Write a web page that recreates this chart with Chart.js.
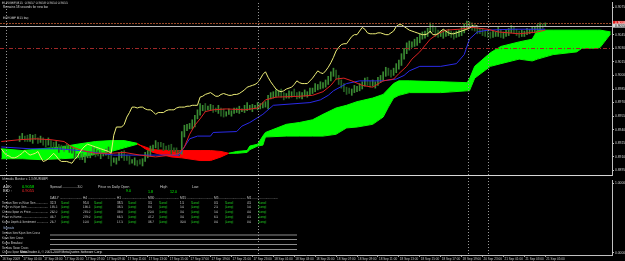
<!DOCTYPE html>
<html><head><meta charset="utf-8">
<script src="https://cdn.jsdelivr.net/npm/chart.js@4.4.0/dist/chart.umd.min.js"></script>
<style>
html,body{margin:0;padding:0;background:#000;overflow:hidden}
#wrap{position:relative;width:625px;height:261px;background:#000}
#c1{position:absolute;left:0;top:0}
#c2{position:absolute;left:0;top:178px}
#txt{position:absolute;left:0;top:0;width:1250px;height:522px;transform:scale(0.5);transform-origin:0 0;pointer-events:none;font-family:"Liberation Sans",Arial,sans-serif;z-index:2}
#txt div{position:absolute;white-space:pre;line-height:1;overflow:hidden}
</style></head><body>
<div id="wrap">
<canvas id="c1" width="625" height="178"></canvas>
<canvas id="c2" width="625" height="83"></canvas>
<div id="txt"></div>
</div>
<script>
// ---------------- DATA ----------------
// M15 bars, bar 0 = 16 Sep 2009 23:00
const timeBars = [0,8,16,24,32,40,48,56,64,72,80,88,96,104,112,120,128,136,144,152,160,168,176,184,192,200,208];
const timeLabels = ["16 Sep 2009","17 Sep 01:00","17 Sep 03:00","17 Sep 05:00","17 Sep 07:00","17 Sep 09:00","17 Sep 11:00","17 Sep 13:00","17 Sep 15:00","17 Sep 17:00","17 Sep 19:00","17 Sep 21:00","17 Sep 23:00","18 Sep 01:00","18 Sep 03:00","18 Sep 05:00","18 Sep 07:00","18 Sep 09:00","18 Sep 11:00","18 Sep 13:00","18 Sep 15:00","18 Sep 17:00","18 Sep 19:00","20 Sep 23:00","21 Sep 01:00","21 Sep 03:00","21 Sep 05:00"];
const priceTicks = [0.9075,0.9045,0.9030,0.9015,0.9000,0.8985,0.8970,0.8955,0.8940,0.8925,0.8910,0.8895];
const indicatorTicks = [1,0];

const firstBar = 7; // first visible candle
const closes = [
0.8930,0.8932,0.8931,0.8929,0.8930,0.8932,0.8930,0.8928,0.8929,0.8927,
0.8924,0.8927,0.8923,0.8921,0.8922,0.8920,0.8919,0.8921,0.8920,0.8919,
0.8915,0.8912,0.8911,0.8909,0.8909,0.8910,0.8912,0.8914,0.8917,0.8914,
0.8912,0.8913,0.8914,0.8916,0.8910,0.8905,0.8906,0.8908,0.8911,0.8914,
0.8911,0.8907,0.8905,0.8905,0.8905,0.8904,0.8903,0.8907,0.8910,0.8915,
0.8919,0.8922,0.8924,0.8923,0.8922,0.8921,0.8920,0.8919,0.8918,0.8917,
0.8916,0.8914,0.8934,0.8943,0.8943,0.8943,0.8946,0.8954,0.8959,0.8965,
0.8965,0.8964,0.8965,0.8965,0.8963,0.8962,0.8962,0.8960,0.8957,0.8959,
0.8959,0.8959,0.8961,0.8962,0.8962,0.8962,0.8964,0.8965,0.8965,0.8965,
0.8966,0.8966,0.8967,0.8967,0.8967,0.8976,0.8977,0.8979,0.8980,0.8981,
0.8979,0.8977,0.8977,0.8979,0.8980,0.8979,0.8978,0.8978,0.8979,0.8979,
0.8980,0.8982,0.8984,0.8987,0.8988,0.8989,0.8990,0.8992,0.8996,0.9001,
0.9004,0.8998,0.8993,0.8989,0.8985,0.8983,0.8982,0.8983,0.8985,0.8986,
0.8987,0.8990,0.8994,0.8992,0.8991,0.8991,0.8991,0.8994,0.8997,0.9001,
0.9005,0.9003,0.9002,0.9005,0.9009,0.9014,0.9020,0.9027,0.9031,0.9034,
0.9035,0.9035,0.9039,0.9043,0.9045,0.9045,0.9049,0.9053,0.9051,0.9047,
0.9046,0.9046,0.9046,0.9047,0.9047,0.9046,0.9045,0.9045,0.9047,0.9049,
0.9054,0.9056,0.9056,0.9054,0.9052,0.9050,0.9049,0.9048,0.9047,0.9046,
0.9045,0.9045,0.9046,0.9049,0.9045,0.9045,0.9046,0.9049,0.9051,0.9049,
0.9047,0.9046,0.9046,0.9047,0.9048,0.9049,0.9050,0.9051,0.9052,0.9055,
0.9054,0.9055];
const highs = [
0.8933,0.8936,0.8933,0.8934,0.8935,0.8934,0.8935,0.8931,0.8933,0.8931,
0.8929,0.8931,0.8928,0.8926,0.8927,0.8924,0.8923,0.8922,0.8925,0.8922,
0.8921,0.8919,0.8913,0.8914,0.8914,0.8912,0.8915,0.8915,0.8921,0.8919,
0.8917,0.8917,0.8915,0.8919,0.8921,0.8912,0.8909,0.8909,0.8915,0.8916,
0.8917,0.8912,0.8911,0.8907,0.8909,0.8906,0.8907,0.8908,0.8915,0.8917,
0.8922,0.8923,0.8928,0.8926,0.8926,0.8925,0.8922,0.8923,0.8924,0.8920,
0.8920,0.8917,0.8938,0.8945,0.8946,0.8947,0.8951,0.8956,0.8962,0.8969,
0.8967,0.8969,0.8966,0.8968,0.8967,0.8964,0.8967,0.8964,0.8963,0.8960,
0.8963,0.8961,0.8964,0.8964,0.8966,0.8963,0.8967,0.8970,0.8967,0.8968,
0.8967,0.8970,0.8969,0.8970,0.8971,0.8978,0.8981,0.8982,0.8984,0.8983,
0.8985,0.8981,0.8980,0.8983,0.8982,0.8985,0.8981,0.8982,0.8981,0.8984,
0.8982,0.8986,0.8986,0.8991,0.8990,0.8993,0.8992,0.8995,0.8999,0.9004,
0.9008,0.9006,0.9000,0.8995,0.8991,0.8987,0.8986,0.8985,0.8989,0.8988,
0.8991,0.8993,0.8997,0.8998,0.8994,0.8995,0.8993,0.8998,0.9000,0.9004,
0.9009,0.9008,0.9006,0.9008,0.9013,0.9017,0.9024,0.9030,0.9036,0.9038,
0.9037,0.9040,0.9042,0.9046,0.9048,0.9049,0.9052,0.9058,0.9056,0.9053,
0.9050,0.9049,0.9050,0.9049,0.9051,0.9049,0.9048,0.9049,0.9050,0.9053,
0.9057,0.9060,0.9059,0.9058,0.9056,0.9054,0.9052,0.9052,0.9050,0.9051,
0.9048,0.9049,0.9048,0.9053,0.9051,0.9048,0.9050,0.9052,0.9055,0.9053,
0.9051,0.9049,0.9050,0.9049,0.9052,0.9051,0.9054,0.9053,0.9056,0.9058,
0.9057,0.9058];
const lows = [
0.8927,0.8929,0.8927,0.8927,0.8927,0.8925,0.8929,0.8925,0.8926,0.8923,
0.8921,0.8923,0.8919,0.8919,0.8919,0.8915,0.8918,0.8916,0.8918,0.8915,
0.8914,0.8908,0.8909,0.8907,0.8907,0.8904,0.8909,0.8909,0.8912,0.8910,
0.8911,0.8908,0.8911,0.8912,0.8908,0.8900,0.8904,0.8902,0.8906,0.8909,
0.8906,0.8906,0.8902,0.8903,0.8901,0.8900,0.8902,0.8900,0.8905,0.8909,
0.8911,0.8917,0.8920,0.8918,0.8921,0.8917,0.8918,0.8917,0.8913,0.8916,
0.8913,0.8911,0.8913,0.8932,0.8939,0.8941,0.8941,0.8943,0.8952,0.8956,
0.8961,0.8960,0.8962,0.8962,0.8959,0.8960,0.8958,0.8955,0.8954,0.8955,
0.8957,0.8955,0.8958,0.8959,0.8958,0.8960,0.8959,0.8961,0.8962,0.8960,
0.8963,0.8962,0.8963,0.8964,0.8965,0.8963,0.8974,0.8975,0.8976,0.8977,
0.8976,0.8973,0.8975,0.8975,0.8976,0.8977,0.8974,0.8975,0.8974,0.8977,
0.8976,0.8978,0.8980,0.8982,0.8984,0.8985,0.8986,0.8987,0.8990,0.8994,
0.8999,0.8996,0.8990,0.8986,0.8982,0.8979,0.8980,0.8978,0.8981,0.8982,
0.8983,0.8985,0.8988,0.8989,0.8987,0.8988,0.8986,0.8989,0.8992,0.8994,
0.8999,0.9000,0.8998,0.9000,0.9003,0.9007,0.9011,0.9018,0.9024,0.9028,
0.9031,0.9032,0.9033,0.9036,0.9040,0.9041,0.9043,0.9047,0.9048,0.9043,
0.9042,0.9043,0.9041,0.9043,0.9044,0.9042,0.9040,0.9042,0.9043,0.9044,
0.9047,0.9052,0.9053,0.9050,0.9049,0.9046,0.9046,0.9044,0.9043,0.9042,
0.9041,0.9042,0.9043,0.9043,0.9042,0.9041,0.9043,0.9044,0.9047,0.9046,
0.9044,0.9042,0.9043,0.9043,0.9045,0.9046,0.9047,0.9047,0.9049,0.9050,
0.9052,0.9054];

const tenkan = [[0,0.8927],[7,0.8929],[13,0.8930],[19,0.8929],[24,0.8927],[27,0.8921],[31,0.8917],[36,0.8914],[42,0.8914],[47,0.8915],[53,0.8912],[59,0.8910],[65,0.8912],[68,0.8914],[70,0.8921],[72,0.8935],[74,0.8945],[76,0.8952],[78,0.8960],[81,0.8962],[86,0.8963],[93,0.8962],[98,0.8964],[101,0.8973],[105,0.8976],[114,0.8977],[119,0.8978],[123,0.8982],[126,0.8989],[128,0.8996],[131,0.8997],[134,0.8994],[138,0.8989],[142,0.8987],[146,0.8994],[150,0.8996],[152,0.9002],[155,0.9010],[157,0.9018],[160,0.9026],[164,0.9040],[167,0.9046],[170,0.9050],[175,0.9051],[180,0.9053],[186,0.9051],[190,0.9048],[198,0.9046],[205,0.9048],[208,0.9050]];
const kijun = [[0,0.8921],[11,0.8919],[22,0.8919],[30,0.8917],[38,0.8914],[43,0.8912],[57,0.8912],[68,0.8912],[70,0.8921],[72,0.8930],[75,0.8933],[80,0.8933],[81,0.8937],[90,0.8938],[92,0.8944],[95,0.8948],[100,0.8957],[104,0.8967],[118,0.8970],[122,0.8973],[125,0.8978],[127,0.8983],[132,0.8991],[137,0.8994],[146,0.8994],[151,0.8996],[154,0.9000],[156,0.9005],[160,0.9010],[168,0.9010],[174,0.9013],[177,0.9023],[179,0.9040],[182,0.9048],[186,0.9050],[195,0.9051],[208,0.9051]];

const cloudBars = [0,8,15,23,29,36,42,47,52,55,58,65,69,76,80,84,87,90,94,95,98,100,101,109,114,119,123,128,132,136,142,146,148,150,152,156,168,178,179,181,187,191,198,203,205,211,220,222,228,229,233];
const senkouA = [
0.8919,0.8917,0.8919,0.8921,0.8924,0.8927,0.8928,0.8928,0.8925,0.8919,
0.8915,0.8910,0.8909,0.8906,0.8906,0.8910,0.8914,0.8916,0.8917,0.8922,
0.8924,0.8933,0.8937,0.8946,0.8948,0.8951,0.8957,0.8964,0.8967,0.8971,
0.8975,0.8979,0.8985,0.8991,0.8994,0.8994,0.8993,0.8992,0.8996,0.9010,
0.9025,0.9032,0.9037,0.9040,0.9050,0.9050,0.9050,0.9050,0.9050,0.9050,
0.9048];
const senkouB = [
0.8908,0.8908,0.8907,0.8908,0.8909,0.8913,0.8916,0.8920,0.8924,0.8921,
0.8918,0.8917,0.8917,0.8917,0.8917,0.8916,0.8914,0.8914,0.8915,0.8918,
0.8922,0.8923,0.8932,0.8933,0.8933,0.8933,0.8933,0.8935,0.8942,0.8943,
0.8946,0.8954,0.8965,0.8975,0.8978,0.8981,0.8981,0.8983,0.8983,0.8997,
0.9010,0.9013,0.9018,0.9016,0.9018,0.9023,0.9026,0.9030,0.9030,0.9031,
0.9046];

const chikouShift = 26;
const askPrice = 0.9058, bidPrice = 0.9055, levelPrice = 0.9030;
const separatorBars = [1.8, 98.2, 178.5, 186.1];

const monitorCols = ["DAILY","H4","H1","M30","M15","M5","M1"];
const monitorRows = ["Tenkan Sen vs Kijun Sen","Price vs Kijun Sen","Chikou Span vs Price","Price vs Kumo","Kumo Depth & Sentiment"];
const monitorValues = [
 ["32.3","95.0","38.5","3.5","1.5","0.5","4.5"],
 ["195.5","190.5","38.5","8.0","5.0","2.5","5.0"],
 ["262.0","291.0","39.0","20.0","3.0","5.0","4.0"],
 ["46.7","279.0","66.5","47.2","3.0","6.5","4.5"],
 ["26.7","10.0","17.5","38.7","30.0","0.0","0.0"]];
const signalRows = ["Tenkan Sen/Kijun Sen Cross","Kijun Sen Cross","Kumo Breakout","Senkou Span Cross","Chikou Span Cross"];

// ---------------- CHARTS ----------------
const FONT = "Liberation Sans";
const xMin = -0.5, xMax = 233.5;
const GREEN = '#00ff00', RED = '#ff0000';

const candleData = closes.map((c, i) => ({x: firstBar + i, y: [lows[i], highs[i]]}));
const chikouData = closes.map((c, i) => ({x: firstBar + i - chikouShift, y: c})).filter(p => p.x >= 0);
const toXY = arr => arr.map(p => ({x: p[0], y: p[1]}));
const cloudColor = ctx => {
  const i = ctx.p0DataIndex, j = ctx.p1DataIndex;
  return (senkouA[i] + senkouA[j] >= senkouB[i] + senkouB[j]) ? GREEN : RED;
};

function drawSeparators(chart, top, bottom) {
  const {ctx, scales: {x}} = chart;
  ctx.save();
  ctx.strokeStyle = '#9a9a9a'; ctx.lineWidth = 1; ctx.setLineDash([1, 2]);
  separatorBars.forEach(b => {
    const px = Math.round(x.getPixelForValue(b)) + 0.5;
    ctx.beginPath(); ctx.moveTo(px, top); ctx.lineTo(px, bottom); ctx.stroke();
  });
  ctx.restore();
}

const mainOverlay = {
  id: 'mainOverlay',
  afterDatasetsDraw(chart) {
    const {ctx, chartArea: a, scales: {y}} = chart;
    drawSeparators(chart, a.top, a.bottom);
    ctx.save();
    const hl = (v, color, dash) => {
      const py = Math.round(y.getPixelForValue(v)) + 0.5;
      ctx.strokeStyle = color; ctx.setLineDash(dash); ctx.lineWidth = 1;
      ctx.beginPath(); ctx.moveTo(a.left, py); ctx.lineTo(a.right, py); ctx.stroke();
    };
    hl(askPrice, '#9a4a28', [2, 1]);
    hl(bidPrice, '#b8b8b8', []);
    hl(levelPrice, '#a02828', [4, 2, 1, 2]);
    ctx.restore();
  },
  afterDraw(chart) {
    const {ctx, chartArea: a, scales: {y}} = chart;
    ctx.save();
    ctx.strokeStyle = '#d8d8d8'; ctx.lineWidth = 1;
    ctx.beginPath(); ctx.moveTo(0, a.bottom + 0.5); ctx.lineTo(a.right, a.bottom + 0.5); ctx.stroke();
    const box = (v, bg, fg) => {
      const py = y.getPixelForValue(v);
      ctx.fillStyle = bg; ctx.fillRect(a.right + 1, py - 2, 12, 4);
      ctx.fillStyle = fg; ctx.font = '3.3px "' + FONT + '"';
      ctx.textBaseline = 'middle'; ctx.textAlign = 'left';
      ctx.fillText(v.toFixed(4), a.right + 3, py);
    };
    box(askPrice, '#e01818', '#ffffff');
    box(bidPrice, '#d8d8d8', '#000000');
    ctx.restore();
  }
};

new Chart(document.getElementById('c1'), {
  type: 'line',
  data: { datasets: [
    { label: 'Senkou Span A', data: cloudBars.map((b, i) => ({x: b, y: senkouA[i]})),
      borderWidth: 1, borderColor: GREEN, segment: {borderColor: cloudColor}, pointRadius: 0,
      fill: {target: '+1', above: GREEN, below: RED}, order: 10 },
    { label: 'Senkou Span B', data: cloudBars.map((b, i) => ({x: b, y: senkouB[i]})),
      borderWidth: 1, borderColor: GREEN, segment: {borderColor: cloudColor}, pointRadius: 0,
      fill: false, order: 9 },
    { type: 'bar', label: 'EURGBP', data: candleData, barThickness: 1, grouped: false,
      backgroundColor: ctx => {
        const i = ctx.dataIndex;
        const open = i > 0 ? closes[i - 1] : closes[i];
        return closes[i] >= open ? '#3a8a32' : '#255e22';
      }, order: 5 },
    { label: 'Kijun Sen', data: toXY(kijun), borderColor: '#2a2ae8', borderWidth: 1, pointRadius: 0, fill: false, order: 3 },
    { label: 'Tenkan Sen', data: toXY(tenkan), borderColor: '#dc2222', borderWidth: 1, pointRadius: 0, fill: false, order: 2 },
    { label: 'Chikou Span', data: chikouData, borderColor: '#eeee78', borderWidth: 1, pointRadius: 0, fill: false, order: 1 }
  ]},
  options: {
    responsive: false, animation: false, devicePixelRatio: 1, events: [],
    layout: {padding: {left: 0, right: 0, top: 0, bottom: 1}, autoPadding: false},
    plugins: {legend: {display: false}, tooltip: {enabled: false}},
    scales: {
      x: {type: 'linear', min: xMin, max: xMax, display: false, offset: false, bounds: 'data', grace: 0,
          grid: {offset: false}},
      y: {type: 'linear', position: 'right', min: 0.8890, max: 0.9080,
        afterBuildTicks: s => { s.ticks = priceTicks.map(v => ({value: v})); },
        afterFit: s => { s.width = 13; },
        ticks: {color: '#d0d0d0', font: {family: FONT, size: 3.3}, padding: 1, callback: v => Number(v).toFixed(4)},
        grid: {drawOnChartArea: false, color: '#c0c0c0', tickLength: 2},
        border: {color: '#c0c0c0'}}
    }
  },
  plugins: [mainOverlay]
});

const subOverlay = {
  id: 'subOverlay',
  afterDraw(chart) { drawSeparators(chart, 0, chart.chartArea.bottom); }
};

new Chart(document.getElementById('c2'), {
  type: 'line',
  data: { datasets: [] },
  options: {
    responsive: false, animation: false, devicePixelRatio: 1, events: [],
    layout: {padding: 0, autoPadding: false},
    plugins: {legend: {display: false}, tooltip: {enabled: false}},
    scales: {
      x: {type: 'linear', min: xMin, max: xMax, position: 'bottom', offset: false,
        afterBuildTicks: s => { s.ticks = timeBars.map(v => ({value: v})); },
        afterFit: s => { s.height = 6; },
        ticks: {autoSkip: false, maxRotation: 0, minRotation: 0, align: 'start', labelOffset: 1, padding: 0,
          color: '#c8c8c8', font: {family: FONT, size: 3.1}, callback: (v, i) => timeLabels[i]},
        grid: {drawOnChartArea: false, color: '#a0a0a0', tickLength: 2},
        border: {color: '#c0c0c0'}},
      y: {type: 'linear', position: 'right', min: -0.03, max: 1.03,
        afterBuildTicks: s => { s.ticks = indicatorTicks.map(v => ({value: v})); },
        afterFit: s => { s.width = 13; },
        ticks: {color: '#d0d0d0', font: {family: FONT, size: 3.3}, padding: 1, callback: v => Number(v).toFixed(4)},
        grid: {drawOnChartArea: false, color: '#c0c0c0', tickLength: 2},
        border: {color: '#c0c0c0'}}
    }
  },
  plugins: [subOverlay]
});

// ---------------- TEXT (real text, 2x then scaled 0.5) ----------------
const T = document.getElementById('txt');
function put(x, y, s, color, size, width) {
  const d = document.createElement('div');
  d.textContent = s;
  d.style.left = (x * 2) + 'px';
  d.style.top = ((y - size * 0.55) * 2) + 'px';
  d.style.fontSize = (size * 2) + 'px';
  d.style.color = color;
  if (width) d.style.width = (width * 2) + 'px';
  T.appendChild(d);
}
function rule(x1, x2, y, color) {
  const d = document.createElement('div');
  d.style.left = (x1 * 2) + 'px'; d.style.top = (y * 2) + 'px';
  d.style.width = ((x2 - x1) * 2) + 'px'; d.style.height = '2px';
  d.style.background = color;
  T.appendChild(d);
}
const DOTS = ' ..................................................';
const W = '#d4d4d4';

put(2, 3.3, 'EURGBP,M15  0.9057 0.9058 0.9054 0.9055', W, 3.3);
put(3, 6.8, 'Remains 58 seconds for new bar', W, 3.1);
put(3, 18.3, 'EURGBP M15 buy', W, 3.1);

put(2, 178.6, 'Ichimoku Monitor v. 1.3 (EURGBP)', '#c8c8c8', 3.0);
put(3, 186.6, 'ASK:', W, 4.0);
put(22, 186.6, '0.9058', GREEN, 4.0);
put(3, 190.8, 'BID :', W, 4.0);
put(22, 190.8, '0.9055', '#ff2a2a', 4.0);
put(50, 187, 'Spread ...............3.0', W, 3.6);
put(98, 187, 'Price vs Daily Open', W, 3.6);
put(160, 187, 'High', W, 3.6);
put(192, 187, 'Low', W, 3.6);
put(126, 190.6, '9.0', GREEN, 3.6);
put(148, 192, '1.8', GREEN, 3.6);
put(170, 192, '12.0', GREEN, 3.6);

const colX = [50, 83, 117, 148, 180, 214, 247];
monitorCols.forEach((c, k) => put(colX[k], 198, c + DOTS, '#c8c8c8', 3.2, (k < 6 ? colX[k + 1] - colX[k] - 1 : 31)));
const rowY = [202.4, 207.3, 212.2, 217.1, 222.0];
monitorRows.forEach((r, j) => {
  put(2, rowY[j], r + DOTS, '#c8c8c8', 3.0, 46);
  monitorValues[j].forEach((v, k) => {
    put(colX[k], rowY[j], v, W, 3.0);
    put(colX[k] + 11, rowY[j], '[Long]', '#22d822', 3.0);
  });
});
put(3, 228.2, 'Signals', '#9fb4dc', 3.4);
const sigY = [233, 237.9, 242.8, 247.6, 252.3];
signalRows.forEach((s, j) => put(2, sigY[j], s, '#c8c8c8', 3.0));
[234.3, 239.1, 244.0, 248.9].forEach(yy => rule(50, 297, yy, '#8c8c8c'));
put(20, 252.5, 'MetaTrader 4, \u00a9 2001-2009 MetaQuotes Software Corp.', '#e0e0e0', 3.3);
</script>
</body></html>
